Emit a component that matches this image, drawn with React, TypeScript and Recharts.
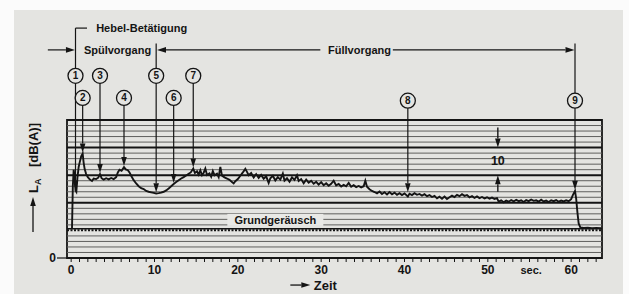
import React from 'react';
import {
  LineChart,
  Line,
  XAxis,
  YAxis,
  ReferenceLine,
  ReferenceDot,
  ReferenceArea,
} from 'recharts';

// Zeit [s]
const times = [
  0.1, 0.2, 0.3, 0.4, 0.52, 0.62, 0.75, 0.9, 1.05, 1.2, 1.38, 1.5, 1.62, 1.8, 2.0, 2.25, 2.5, 2.7,
  3.0, 3.25, 3.46, 3.65, 3.9, 4.2, 4.5, 4.8, 5.1, 5.4, 5.6, 5.8, 6.05, 6.34, 6.55, 6.8, 7.0, 7.2,
  7.5, 7.8, 8.1, 8.4, 8.7, 9.0, 9.3, 9.6, 9.9, 10.2, 10.5, 10.8, 11.1, 11.4, 11.7, 12.0, 12.3, 12.6,
  12.9, 13.2, 13.5, 13.8, 14.1, 14.35, 14.65, 14.85, 15.1, 15.3, 15.5, 15.7, 15.9, 16.1, 16.3, 16.6,
  16.8, 17.0, 17.2, 17.5, 17.7, 17.9, 18.1, 18.4, 18.7, 19.0, 19.3, 19.5, 19.7, 20.0, 20.3, 20.6,
  20.9, 21.1, 21.3, 21.6, 21.9, 22.2, 22.5, 22.8, 23.1, 23.4, 23.7, 23.9, 24.2, 24.5, 24.8, 25.1,
  25.4, 25.6, 25.9, 26.2, 26.5, 26.8, 27.1, 27.3, 27.6, 27.9, 28.2, 28.5, 28.8, 29.1, 29.4, 29.7,
  30.0, 30.3, 30.6, 30.9, 31.2, 31.5, 31.8, 32.1, 32.4, 32.7, 33.0, 33.3, 33.6, 33.9, 34.2, 34.5,
  34.8, 35.1, 35.3, 35.5, 35.8, 36.1, 36.4, 36.7, 37.0, 37.3, 37.6, 37.9, 38.2, 38.5, 38.8, 39.1,
  39.4, 39.7, 40.0, 40.4, 40.6, 40.9, 41.2, 41.5, 41.8, 42.1, 42.4, 42.7, 43.0, 43.3, 43.6, 43.9,
  44.2, 44.5, 44.8, 45.1, 45.4, 45.7, 46.0, 46.3, 46.6, 46.9, 47.2, 47.5, 47.8, 48.1, 48.4, 48.7,
  49.0, 49.3, 49.6, 49.9, 50.2, 50.5, 50.8, 51.1, 51.3, 51.6, 51.9, 52.2, 52.5, 52.8, 53.1, 53.4,
  53.7, 54.0, 54.3, 54.6, 54.9, 55.2, 55.5, 55.8, 56.1, 56.4, 56.7, 57.0, 57.3, 57.6, 57.9, 58.2,
  58.5, 58.8, 59.1, 59.4, 59.7, 60.0, 60.2, 60.46, 60.6, 60.75, 60.9, 61.1, 61.5, 62.0, 62.5, 63.0,
  63.6,
];

// Schallpegel L_A [dB(A)], 2 dB je Rasterlinie
const levels = [
  10.6, 26, 32, 30, 24.5, 24, 29, 33, 35, 36.8, 37.8, 34.5, 32.2, 30.4, 29.3, 28.4, 27.9, 28.8,
  28.6, 29.1, 30.4, 28.9, 28.4, 28.9, 28.5, 29.0, 28.6, 29.3, 31.0, 32.0, 31.6, 32.9, 32.1, 31.8, 31.0, 29.8,
  28.2, 27.0, 26.0, 25.3, 25.0, 24.3, 24.0, 23.8, 23.6, 23.4, 23.5, 23.7, 24.0, 24.5, 25.2, 26.0, 26.8, 27.5,
  28.2, 28.8, 29.3, 29.9, 30.5, 31.0, 32.4, 30.8, 31.4, 30.2, 31.8, 30.0, 30.9, 32.4, 30.1, 30.7,
  29.5, 31.5, 30.0, 30.6, 29.3, 33.0, 29.8, 29.2, 28.8, 28.3, 27.5, 27.0, 27.8, 28.6, 29.8, 31.0,
  32.3, 31.2, 30.0, 30.8, 29.2, 30.4, 29.0, 30.1, 28.7, 29.6, 27.2, 28.9, 29.8, 28.1, 29.3, 28.4,
  30.6, 28.0, 28.9, 27.6, 29.2, 28.3, 30.0, 27.9, 28.6, 27.1, 28.4, 27.3, 28.0, 26.9, 27.6, 26.6,
  27.5, 26.4, 27.1, 26.2, 26.9, 28.0, 26.3, 26.8, 25.9, 26.5, 26.0, 27.2, 25.8, 26.4, 25.7, 26.1,
  25.6, 26.0, 28.0, 25.8, 24.9, 24.3, 23.9, 23.4, 24.1, 23.2, 23.8, 23.0, 23.9, 23.1, 23.7, 22.9,
  23.5, 22.8, 23.4, 22.3, 23.3, 22.8, 23.5, 22.9, 23.2, 22.6, 23.1, 22.4, 22.8, 22.1, 22.5, 21.6,
  22.2, 21.5, 22.3, 21.4, 22.0, 22.6, 22.1, 22.9, 22.4, 23.1, 22.5, 22.8, 22.0, 22.4, 21.8, 22.3,
  21.7, 22.1, 21.6, 22.0, 21.5, 21.9, 21.4, 21.7, 20.4, 20.9, 20.2, 20.8, 20.4, 21.0, 20.5, 21.1,
  20.6, 20.9, 20.3, 21.0, 20.6, 21.2, 20.7, 20.9, 20.4, 21.1, 20.5, 20.8, 20.3, 20.9, 20.6, 21.0,
  20.4, 20.8, 20.5, 20.9, 20.6, 21.3, 22.8, 24.3, 21.5, 16.5, 12.5, 11.1, 10.9, 11.0, 10.8, 10.9,
  10.8,
];

const xTicks = [
  0, 1, 2, 3, 4, 5, 6, 7, 8, 9, 10, 11, 12, 13, 14, 15, 16, 17, 18, 19, 20, 21, 22, 23, 24, 25, 26,
  27, 28, 29, 30, 31, 32, 33, 34, 35, 36, 37, 38, 39, 40, 41, 42, 43, 44, 45, 46, 47, 48, 49, 50,
  51, 52, 53, 54, 55, 56, 57, 58, 59, 60, 61, 62, 63,
];
const thinGrid = [2, 4, 6, 8, 12, 14, 16, 18, 22, 24, 26, 28, 32, 34, 36, 38, 42, 44, 46, 48];
const thickGrid = [20, 30, 40];
const baseNoise = 10.2;

// numbered markers (circle + arrow onto the trace)
const markerIds = ['1', '2', '3', '4', '5', '6', '7', '8', '9'];
const markerTimes = [0.52, 1.38, 3.46, 6.34, 10.2, 12.3, 14.65, 40.4, 60.46];
const markerTips = [24.8, 38.2, 30.8, 33.3, 23.8, 27.2, 32.8, 23.8, 24.7];
const markerRows = [66, 58, 66, 58, 66, 58, 66, 57, 57];

const FONT = '"Liberation Sans", Arial, Helvetica, sans-serif';
const INK = '#141414';
const PAPER = '#e4e4e1';

const data = times.map((t, i) => ({ t, la: levels[i] }));

const arrowLine = (head: 'start' | 'end' | 'none', width = 1.2) => (p: any) => {
  const { x1, y1, x2, y2 } = p;
  const dx = x2 - x1;
  const dy = y2 - y1;
  const len = Math.hypot(dx, dy) || 1;
  const ux = dx / len;
  const uy = dy / len;
  const hl = 9;
  const hw = 2.8;
  let sx = x1, sy = y1, ex = x2, ey = y2;
  let tri: string | null = null;
  if (head === 'end') {
    const bx = x2 - ux * hl, by = y2 - uy * hl;
    tri = `${x2},${y2} ${bx - uy * hw},${by + ux * hw} ${bx + uy * hw},${by - ux * hw}`;
    ex = bx; ey = by;
  } else if (head === 'start') {
    const bx = x1 + ux * hl, by = y1 + uy * hl;
    tri = `${x1},${y1} ${bx - uy * hw},${by + ux * hw} ${bx + uy * hw},${by - ux * hw}`;
    sx = bx; sy = by;
  }
  return (
    <g>
      <line x1={sx} y1={sy} x2={ex} y2={ey} stroke={INK} strokeWidth={width} />
      {tri && <polygon points={tri} fill={INK} />}
    </g>
  );
};

const txt = (size: number, weight = 700) => ({
  position: 'center' as const,
  fill: INK,
  fontSize: size,
  fontWeight: weight,
  fontFamily: FONT,
});

const GroundLabel = (props: any) => {
  const { x, y } = props.viewBox;
  return (
    <g>
      <rect x={x - 48} y={y - 6} width={96} height={12} fill="#e9e9e6" />
      <text x={x} y={y + 4} textAnchor="middle" fill={INK} fontSize={11} fontWeight={700} fontFamily={FONT}>
        Grundgeräusch
      </text>
    </g>
  );
};

const YLabel = (props: any) => {
  const { x, y } = props.viewBox;
  return (
    <g transform={`translate(${x},${y}) rotate(-90)`} fontFamily={FONT} fill={INK} fontWeight={700}>
      <line x1={-37} y1={0} x2={-10} y2={0} stroke={INK} strokeWidth={1.3} />
      <polygon points="-2,0 -11,-2.8 -11,2.8" fill={INK} />
      <text x={2} y={5} fontSize={13}>
        L<tspan fontSize={9} dy={3}>A</tspan>
      </text>
      <text x={28} y={5} fontSize={13}>[dB(A)]</text>
    </g>
  );
};

export default function App() {
  return (
    <div style={{ position: 'absolute', left: 0, top: 0, width: 629, height: 294, background: '#fbfbfb' }}>
      <div style={{ position: 'absolute', left: 14, top: 10, width: 609, height: 284, background: PAPER }} />
      <div style={{ position: 'absolute', left: 0, top: 0 }}>
        <LineChart width={629} height={294} data={data} margin={{ top: 120, right: 27, bottom: 0, left: 0 }}>
          <XAxis
            dataKey="t"
            type="number"
            domain={[-0.5, 63.7]}
            ticks={xTicks}
            interval={0}
            allowDataOverflow
            height={36}
            axisLine={false}
            tickSize={4}
            tickMargin={3}
            tickLine={{ stroke: INK, strokeWidth: 1 }}
            tickFormatter={(v: number) => (v % 10 === 0 ? String(v) : '')}
            tick={{ fill: INK, fontSize: 12, fontWeight: 700, fontFamily: FONT }}
          />
          <YAxis
            type="number"
            domain={[0, 50]}
            ticks={[0]}
            width={67}
            axisLine={false}
            tickSize={10}
            tickMargin={1}
            tickLine={{ stroke: INK, strokeWidth: 1.2 }}
            tick={{ fill: INK, fontSize: 12, fontWeight: 700, fontFamily: FONT }}
          />

          {thinGrid.map((v) => (
            <ReferenceLine key={'g' + v} y={v} stroke="#5f5f5d" strokeWidth={1} />
          ))}
          {thickGrid.map((v) => (
            <ReferenceLine key={'G' + v} y={v} stroke={INK} strokeWidth={2} />
          ))}
          <ReferenceArea x1={-0.5} x2={63.7} y1={0} y2={50} fill="none" stroke={INK} strokeWidth={1.8} ifOverflow="visible" />

          <ReferenceLine y={baseNoise + 0.4} stroke={INK} strokeWidth={1.3} />
          <ReferenceLine y={baseNoise - 0.15} stroke={INK} strokeWidth={2} strokeDasharray="2 1.5" />
          <ReferenceDot x={24.5} y={13.8} r={0} ifOverflow="visible" label={{ content: GroundLabel }} />

          <Line
            type="linear"
            dataKey="la"
            stroke={INK}
            strokeWidth={1.9}
            dot={false}
            isAnimationActive={false}
          />

          {/* 10 dB scale marker */}
          <ReferenceLine segment={[{ x: 51.2, y: 47.3 }, { x: 51.2, y: 40 }]} ifOverflow="visible" shape={arrowLine('end', 1.4)} />
          <ReferenceLine segment={[{ x: 51.2, y: 24 }, { x: 51.2, y: 30 }]} ifOverflow="visible" shape={arrowLine('end', 1.4)} />
          <ReferenceDot x={51.2} y={35.2} r={0} ifOverflow="visible" label={{ value: '10', ...txt(12.5) }} />

          {/* phases above the plot */}
          <ReferenceLine segment={[{ x: 0.52, y: 66 }, { x: 0.52, y: 83.3 }]} ifOverflow="visible" shape={arrowLine('none')} />
          <ReferenceLine segment={[{ x: 0.52, y: 83.3 }, { x: 1.9, y: 83.3 }]} ifOverflow="visible" shape={arrowLine('none')} />
          <ReferenceDot x={8.46} y={83.3} r={0} ifOverflow="visible" label={{ value: 'Hebel-Betätigung', ...txt(11) }} />

          <ReferenceLine segment={[{ x: -2.8, y: 75.4 }, { x: 0.45, y: 75.4 }]} ifOverflow="visible" shape={arrowLine('end')} />
          <ReferenceDot x={5.56} y={75.4} r={0} ifOverflow="visible" label={{ value: 'Spülvorgang', ...txt(11) }} />
          <ReferenceLine segment={[{ x: 10.2, y: 77.7 }, { x: 10.2, y: 66 }]} ifOverflow="visible" shape={arrowLine('none')} />
          <ReferenceLine segment={[{ x: 10.3, y: 75.4 }, { x: 29.9, y: 75.4 }]} ifOverflow="visible" shape={arrowLine('start')} />
          <ReferenceDot x={34.6} y={75.4} r={0} ifOverflow="visible" label={{ value: 'Füllvorgang', ...txt(11) }} />
          <ReferenceLine segment={[{ x: 38.6, y: 75.4 }, { x: 60.4, y: 75.4 }]} ifOverflow="visible" shape={arrowLine('end')} />
          <ReferenceLine segment={[{ x: 60.46, y: 77.7 }, { x: 60.46, y: 57 }]} ifOverflow="visible" shape={arrowLine('none')} />

          {/* numbered arrows onto the trace */}
          {markerIds.map((id, i) => (
            <ReferenceLine
              key={'a' + id}
              segment={[{ x: markerTimes[i], y: markerRows[i] }, { x: markerTimes[i], y: markerTips[i] }]}
              ifOverflow="visible"
              shape={arrowLine('end')}
            />
          ))}
          {markerIds.map((id, i) => (
            <ReferenceDot
              key={'c' + id}
              x={markerTimes[i]}
              y={markerRows[i]}
              r={7.5}
              fill={PAPER}
              stroke={INK}
              strokeWidth={1.3}
              ifOverflow="visible"
              label={{ value: id, ...txt(10) }}
            />
          ))}

          {/* axis captions */}
          <ReferenceDot x={-4.58} y={22.8} r={0} ifOverflow="visible" label={{ content: YLabel }} />
          <ReferenceDot x={55.2} y={-4.5} r={0} ifOverflow="visible" label={{ value: 'sec.', ...txt(11) }} />
          <ReferenceLine segment={[{ x: 26.3, y: -9.8 }, { x: 28.7, y: -9.8 }]} ifOverflow="visible" shape={arrowLine('end', 1.3)} />
          <ReferenceDot x={30.5} y={-9.8} r={0} ifOverflow="visible" label={{ value: 'Zeit', ...txt(13) }} />
        </LineChart>
      </div>
    </div>
  );
}
